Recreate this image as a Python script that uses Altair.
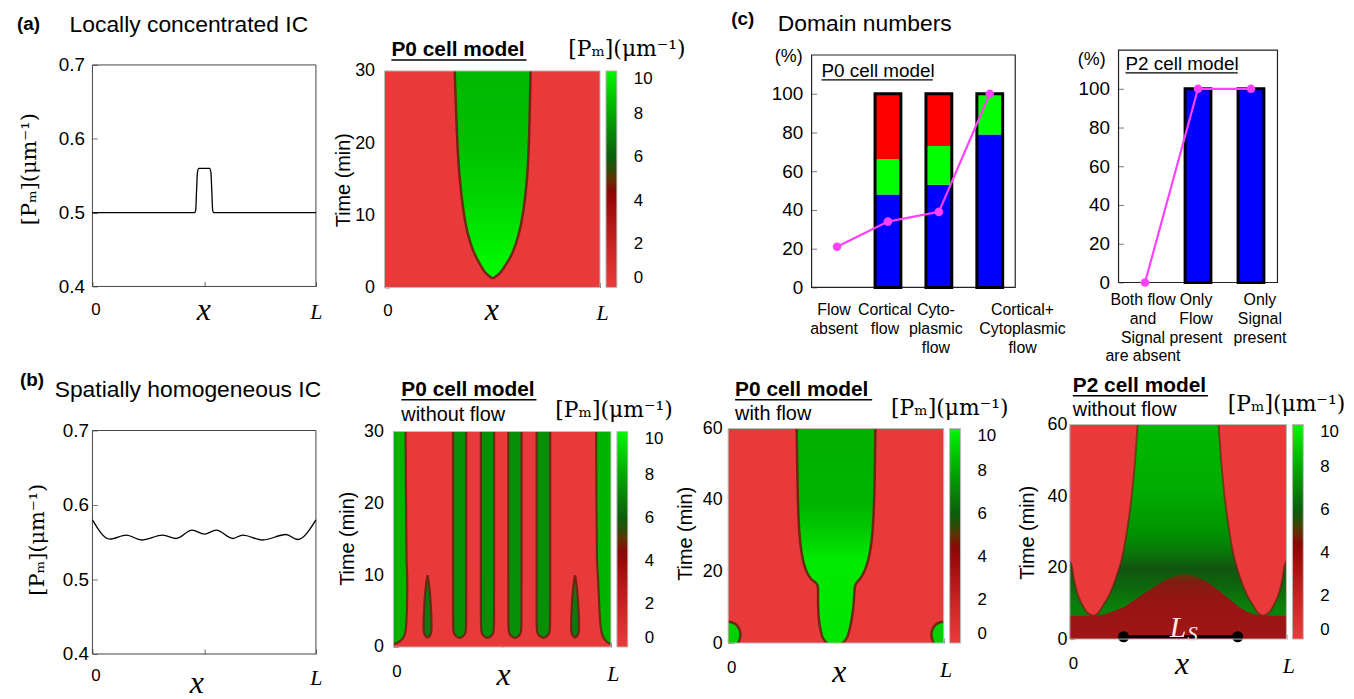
import altair as alt
import pandas as pd

SANS = "Liberation Sans"
SERIF = "Liberation Serif"
MATHF = "DejaVu Serif"
RED = "#e83a3a"
PM = "[Pₘ](μm⁻¹)"
U = alt.Undefined

# ---------------- data ----------------
# (a) locally concentrated initial condition
LA_X = [0.0, 0.457, 0.462, 0.466, 0.470, 0.476, 0.524, 0.530, 0.534, 0.538, 0.543, 1.0]
LA_Y = [0.500, 0.500, 0.503, 0.530, 0.555, 0.560, 0.560, 0.555, 0.530, 0.503, 0.500, 0.500]
# (b) spatially homogeneous initial condition
LB_X = [0.0, 0.077, 0.152, 0.219, 0.315, 0.375, 0.446, 0.501, 0.554, 0.628, 0.672, 0.762, 0.866, 0.918, 1.0]
LB_Y = [0.580, 0.5543, 0.5596, 0.5530, 0.5596, 0.5550, 0.5663, 0.5610, 0.5663, 0.5550, 0.5596, 0.5530, 0.5604, 0.5537, 0.580]

# heat maps: green domains, time t and left / right edges (fraction of L)
A_T = [1.24, 1.93, 2.6, 3.8, 4.9, 7.2, 10.0, 15.0, 20.0, 30.0]
A_LO = [0.502, 0.470, 0.455, 0.432, 0.413, 0.387, 0.368, 0.348, 0.337, 0.326]
A_HI = [0.502, 0.536, 0.551, 0.577, 0.597, 0.623, 0.643, 0.663, 0.671, 0.678]

B1_E_T = [0.3, 0.8, 1.5, 3.0, 6.6, 10.3, 11.2, 20.4, 30.0]
B1_L_LO = [-0.03, -0.03, -0.03, -0.03, -0.03, -0.03, -0.03, -0.03, -0.03]
B1_L_HI = [0.000, 0.033, 0.053, 0.060, 0.064, 0.064, 0.060, 0.058, 0.056]
B1_R_LO = [1.000, 0.975, 0.960, 0.950, 0.945, 0.940, 0.935, 0.933, 0.932]
B1_R_HI = [1.03, 1.03, 1.03, 1.03, 1.03, 1.03, 1.03, 1.03, 1.03]
B1_S_T = [1.25, 1.5, 2.0, 2.8, 10.0, 30.0]
B1_S2_LO = [0.3045, 0.285, 0.276, 0.274, 0.274, 0.274]
B1_S2_HI = [0.3045, 0.324, 0.333, 0.335, 0.335, 0.335]
B1_S3_LO = [0.4325, 0.413, 0.404, 0.402, 0.402, 0.402]
B1_S3_HI = [0.4325, 0.452, 0.461, 0.463, 0.463, 0.463]
B1_S4_LO = [0.5585, 0.539, 0.530, 0.528, 0.528, 0.528]
B1_S4_HI = [0.5585, 0.578, 0.587, 0.589, 0.589, 0.589]
B1_S5_LO = [0.6895, 0.670, 0.660, 0.658, 0.658, 0.658]
B1_S5_HI = [0.6895, 0.709, 0.719, 0.721, 0.721, 0.721]
B1_P_T = [1.3, 1.6, 2.2, 4.0, 6.6, 8.9, 10.0]
B1_P1_LO = [0.157, 0.143, 0.138, 0.139, 0.143, 0.150, 0.157]
B1_P1_HI = [0.157, 0.171, 0.176, 0.175, 0.171, 0.164, 0.157]
B1_P2_LO = [0.835, 0.821, 0.816, 0.817, 0.821, 0.828, 0.835]
B1_P2_HI = [0.835, 0.849, 0.854, 0.853, 0.849, 0.842, 0.835]

B2_C_T = [-0.5, 0.4, 1.5, 3.0, 6.0, 10.0, 14.0, 16.3, 17.2, 17.8, 19.6, 21.4, 25.0, 30.7, 40.0, 50.0, 60.0]
B2_C_LO = [0.462, 0.452, 0.437, 0.431, 0.421, 0.417, 0.417, 0.418, 0.400, 0.385, 0.366, 0.354, 0.340, 0.329, 0.323, 0.320, 0.318]
B2_C_HI = [0.528, 0.538, 0.553, 0.560, 0.572, 0.582, 0.585, 0.588, 0.600, 0.611, 0.629, 0.642, 0.658, 0.671, 0.678, 0.681, 0.683]
B2_K_T = [-0.5, 0.0, 1.0, 2.0, 3.0, 4.0, 5.0, 5.8, 6.3]
B2_KL_LO = [-0.03, -0.03, -0.03, -0.03, -0.03, -0.03, -0.03, -0.03, -0.03]
B2_KL_HI = [0.045, 0.047, 0.054, 0.057, 0.057, 0.052, 0.042, 0.025, -0.03]
B2_KR_LO = [0.955, 0.953, 0.946, 0.943, 0.943, 0.948, 0.958, 0.975, 1.03]
B2_KR_HI = [1.03, 1.03, 1.03, 1.03, 1.03, 1.03, 1.03, 1.03, 1.03]

B3_R_T = [6.5, 6.9, 7.6, 10.0, 12.0, 15.0, 18.0, 20.0, 22.0, 23.5, 25.0, 30.0, 40.0, 50.0, 60.0]
B3_RL_LO = [0.108, 0.088, 0.075, 0.053, 0.038, 0.024, 0.015, 0.011, 0.004, -0.03, -0.03, -0.03, -0.03, -0.03, -0.03]
B3_RL_HI = [0.108, 0.126, 0.136, 0.160, 0.180, 0.202, 0.218, 0.229, 0.238, 0.244, 0.249, 0.264, 0.287, 0.302, 0.313]
B3_RR_LO = [0.892, 0.874, 0.864, 0.840, 0.820, 0.798, 0.782, 0.771, 0.762, 0.756, 0.751, 0.736, 0.713, 0.698, 0.687]
B3_RR_HI = [0.892, 0.912, 0.925, 0.947, 0.962, 0.976, 0.985, 0.989, 0.996, 1.03, 1.03, 1.03, 1.03, 1.03, 1.03]
DOME_X = [-0.02, 0.10, 0.15, 0.20, 0.25, 0.30, 0.35, 0.40, 0.45, 0.50, 0.53, 0.56, 0.60, 0.65, 0.70, 0.75, 0.80, 0.85, 0.90, 1.02]
DOME_T = [6.5, 6.5, 6.8, 7.8, 9.0, 11.0, 13.0, 15.0, 16.8, 17.9, 18.2, 17.9, 17.0, 15.3, 13.0, 10.5, 8.3, 7.0, 6.5, 6.5]
LS_X = [0.248, 0.775]
LS_T = [0.65, 0.65]
LS_LABEL_X = [0.500, 0.566]
LS_LABEL_T = [3.05, 1.1]

# colour bar
CB_VALUES = [0, 2, 4, 6, 8, 10]
CB_STOPS = [0, 2, 4, 4.8, 5.4, 6, 8, 10]
CB_COLORS = ["#ea3b3b", "#c92222", "#990808", "#7a0a05", "#2d4a08", "#0a5e0a", "#00a800", "#00f800"]

# (c) domain numbers
P0_CATS = ["Flow|absent", "Cortical|flow", "Cyto-|plasmic|flow", "Cortical+|Cytoplasmic|flow"]
P0_BLUE = [0, 48, 53, 79]
P0_GREEN = [0, 18, 20, 21]
P0_RED = [0, 34, 27, 0]
P0_LINE = [21, 34, 39, 100]
P2_CATS = ["Both flow|and|Signal|are absent", "Only|Flow|present", "Only|Signal|present"]
P2_BLUE = [0, 100, 100]
P2_GREEN = [0, 0, 0]
P2_RED = [0, 0, 0]
P2_LINE = [0, 100, 100]

ONE = pd.DataFrame({"o": [0]})


# ---------------- helpers ----------------
def sx(field, axis=U):
    return alt.X(field, type="quantitative",
                 scale=alt.Scale(domain=[0, 1], nice=False, zero=False), axis=axis)


def sy(field, dom, H, off, axis=U):
    return alt.Y(field, type="quantitative",
                 scale=alt.Scale(domain=dom, range=[H, off], nice=False, zero=False), axis=axis)


def x_axis(lp, l_off=2, z_off=3):
    return alt.Axis(values=[0, 0.5, 1],
                    labelExpr="datum.value == 0 ? '0' : (datum.value == 1 ? 'L' : '')",
                    labelFont={"condition": {"test": "datum.value == 1", "value": SERIF}, "value": SANS},
                    labelFontStyle={"condition": {"test": "datum.value == 1", "value": "italic"}, "value": "normal"},
                    labelFontSize={"condition": {"test": "datum.value == 1", "value": 22}, "value": 17},
                    labelOffset={"condition": {"test": "datum.value == 1", "value": l_off}, "value": z_off},
                    labelFlush=False, labelPadding=lp, tickSize=5, offset=-5, tickColor="#666",
                    domain=False, grid=False, title=None, labelColor="black")


def y_axis(vals, lp, size=19, expr=None):
    kw = dict(values=vals, labelPadding=lp, tickSize=5, offset=-5, tickColor="#777",
              domain=False, grid=False, title=None, labelFontSize=size, labelFont=SANS,
              labelColor="black")
    if expr:
        kw["labelExpr"] = expr
    return alt.Axis(**kw)


def text(s, x, y, size, weight="normal", font=SANS, style="normal", align="left",
         angle=0, color="black", opacity=1.0, baseline="alphabetic"):
    return alt.Chart(ONE).mark_text(text=s, fontSize=size, fontWeight=weight, font=font,
                                    fontStyle=style, align=align, baseline=baseline,
                                    angle=angle, color=color, opacity=opacity).encode(
        x=alt.value(x), y=alt.value(y))


def uline(x0, x1, y, w=1.6):
    return alt.Chart(ONE).mark_rule(color="black", strokeWidth=w).encode(
        x=alt.value(x0), x2=alt.value(x1), y=alt.value(y))


def vgrad(stops):
    return alt.LinearGradient(gradient="linear",
                              stops=[alt.GradientStop(offset=o, color=c) for o, c in stops],
                              x1=0, x2=0, y1=0, y2=1)


def domain_df(domains):
    rows = []
    for name, T, LO, HI in domains:
        for t, lo, hi in zip(T, LO, HI):
            rows.append({"id": name, "t": t, "lo": lo, "hi": hi})
    return pd.DataFrame(rows)


def edge_df(domains):
    rows = []
    for name, T, LO, HI in domains:
        pts = [(lo, t) for t, lo in zip(T, LO)][::-1] + [(hi, t) for t, hi in zip(T, HI)]
        for k, (x, t) in enumerate(pts):
            rows.append({"id": name, "k": k, "x": x, "t": t})
    return pd.DataFrame(rows)


def area_layer(domains, fill, H, off, tmax):
    return alt.Chart(domain_df(domains)).mark_area(
        orient="horizontal", interpolate="basis", fill=fill, clip=True, strokeWidth=0).encode(
        y=sy("t", [0, tmax], H, off), x=sx("lo"), x2="hi", detail="id:N")


def edge_layer(domains, color, width, opacity, H, off, tmax):
    return alt.Chart(edge_df(domains)).mark_line(
        interpolate="basis", clip=True, color=color, strokeWidth=width, opacity=opacity).encode(
        x=sx("x"), y=sy("t", [0, tmax], H, off), detail="id:N", order="k:Q")


def line_panel(xs, ys, W, plot_h, off, lp_y, lp_x, texts):
    H = off + plot_h
    dom = [0.4, 0.7]
    df = pd.DataFrame({"x": xs, "v": ys})
    fr = pd.DataFrame({"x0": [0], "x1": [1], "y0": [0.4], "y1": [0.7]})
    yax = y_axis([0.4, 0.45, 0.5, 0.55, 0.6, 0.65, 0.7], lp_y,
                 expr="round(datum.value*100) % 10 == 0 ? format(datum.value, '.1f') : ''")
    frame = alt.Chart(fr).mark_rect(fillOpacity=0, stroke="#444", strokeWidth=1).encode(
        x=sx("x0", x_axis(lp_x, 0, 3)), x2="x1", y=sy("y0", dom, H, off, yax), y2="y1")
    line = alt.Chart(df).mark_line(color="black", strokeWidth=1.3, interpolate="monotone").encode(
        x=sx("x"), y=sy("v", dom, H, off))
    return alt.layer(frame, line, *texts).properties(width=W, height=H)


def heat_panel(W, plot_h, off, tmax, tvals, lp_y, lp_x, layers, texts, bg_fill=RED):
    H = off + plot_h
    fr = pd.DataFrame({"x0": [0], "x1": [1], "y0": [0], "y1": [tmax]})
    bg = alt.Chart(fr).mark_rect(fill=bg_fill, strokeWidth=0).encode(
        x=sx("x0", x_axis(lp_x, 2, 3)), x2="x1",
        y=sy("y0", [0, tmax], H, off, y_axis(tvals, lp_y, size=18)), y2="y1")
    frame = alt.Chart(fr).mark_rect(fillOpacity=0, stroke="#bdbdbd", strokeWidth=1).encode(
        x=sx("x0"), x2="x1", y=sy("y0", [0, tmax], H, off), y2="y1")
    cb = alt.Chart(pd.DataFrame({"cb": [0, 10]})).mark_point(
        size=0, opacity=1, filled=True, strokeWidth=0).encode(
        color=alt.Color("cb:Q",
                        scale=alt.Scale(type="linear", domain=CB_STOPS, range=CB_COLORS),
                        legend=alt.Legend(orient="none", legendX=W + 6, legendY=off,
                                          direction="vertical", gradientLength=plot_h,
                                          gradientThickness=11, values=CB_VALUES, title=None,
                                          labelFont=SANS, labelFontSize=17, labelOffset=17,
                                          labelBaseline="middle", labelColor="black",
                                          gradientStrokeColor="#bbbbbb", gradientStrokeWidth=1)))
    return alt.layer(bg, *layers, frame, cb, *texts).properties(width=W, height=H)


def bar_panel(cats, blue, green, red, line_vals, W, plot_h, off, lp_x, loff, texts):
    H = off + plot_h
    dom = [0, 120]
    xs = alt.Scale(domain=cats, paddingInner=0, paddingOuter=0)
    xax = alt.Axis(labelExpr="split(datum.label, '|')", labelAngle=0, ticks=False, domain=False,
                   labelFontSize=16, labelLineHeight=19, labelPadding=lp_x, title=None,
                   labelFont=SANS, labelColor="black", labelOverlap=False, labelLimit=300,
                   labelOffset=loff)
    rows = []
    for i, c in enumerate(cats):
        for k, (seg, vals) in enumerate([("blue", blue), ("green", green), ("red", red)]):
            rows.append({"cat": c, "seg": seg, "val": vals[i], "k": k})
    seg_df = pd.DataFrame(rows)
    tot_df = pd.DataFrame({"cat": cats, "tot": [b + g + r for b, g, r in zip(blue, green, red)]})
    tot_df = tot_df[tot_df["tot"] > 0]
    line_df = pd.DataFrame({"cat": cats, "v": line_vals})
    fr = pd.DataFrame({"y0": [0], "y1": [120]})

    def xe(axis=U):
        return alt.X("cat:N", scale=xs, sort=cats, axis=axis)

    frame = alt.Chart(fr).mark_rect(fillOpacity=0, stroke="#222", strokeWidth=1.2).encode(
        x=alt.value(0), x2=alt.value(W),
        y=sy("y0", dom, H, off, y_axis([0, 20, 40, 60, 80, 100], 9)), y2="y1")
    segs = alt.Chart(seg_df).mark_bar(size=26, strokeWidth=0).encode(
        x=xe(xax),
        y=alt.Y("val:Q", stack="zero",
                scale=alt.Scale(domain=dom, range=[H, off], nice=False, zero=False)),
        color=alt.Color("seg:N", scale=alt.Scale(domain=["blue", "green", "red"],
                                                 range=["#0000ff", "#00ff00", "#ff0000"]),
                        legend=None),
        order=alt.Order("k:Q"))
    outline = alt.Chart(tot_df).mark_bar(size=26, fillOpacity=0, stroke="black", strokeWidth=3).encode(
        x=xe(), y=sy("tot", dom, H, off))
    mline = alt.Chart(line_df).mark_line(color="#ff40ff", strokeWidth=2.2).encode(
        x=xe(), y=sy("v", dom, H, off))
    mpts = alt.Chart(line_df).mark_point(filled=True, size=75, color="#ff40ff", opacity=1).encode(
        x=xe(), y=sy("v", dom, H, off))
    return alt.layer(frame, segs, outline, mline, mpts, *texts).properties(width=W, height=H)


def spacer(w):
    return alt.Chart(ONE).mark_point(opacity=0).encode(
        x=alt.X("o:Q", axis=None), y=alt.Y("o:Q", axis=None)).properties(width=w, height=10)


def xtitle(x, y):
    return text("x", x, y, 32, font=SERIF, style="italic", align="center")


def ytitle(s, x, y, size=20, font=SANS):
    return text(s, x, y, size, font=font, align="center", angle=270, baseline="middle")


EDGE = "#6a1a10"

# ---------------- row 1 ----------------
lineA = line_panel(LA_X, LA_Y, 225, 223, 15, 8, 15, [
    text("(b)", -85, -20, 19, weight="bold", opacity=0),
    text("(a)", -76, -20, 19, weight="bold"),
    text("Locally concentrated IC", -23, -18, 23),
    ytitle(PM, -63, 120, 21, MATHF),
    xtitle(112, 272),
])

A_DOM = [("a", A_T, A_LO, A_HI)]
H_A, OFF_A = 239, 21
heatA = heat_panel(217, 218, OFF_A, 30, [0, 10, 20, 30], 10, 15, [
    area_layer(A_DOM, vgrad([(0, "#00b800"), (0.35, "#00c000"), (0.6, "#00d400"),
                             (0.85, "#00ee00"), (1, "#00ff00")]), H_A, OFF_A, 30),
    edge_layer(A_DOM, EDGE, 2.5, 0.85, H_A, OFF_A, 30),
], [
    text("P0 cell model", 7, 6, 21, weight="bold"), uline(7, 143, 10),
    text(PM, 185, 6, 22, font=MATHF),
    ytitle("Time (min)", -41, 131),
    xtitle(108, 272),
])

barP0 = bar_panel(P0_CATS, P0_BLUE, P0_GREEN, P0_RED, P0_LINE, 205, 234, 5, 14,
                  {"condition": {"test": "datum.value == 'Cortical+|Cytoplasmic|flow'", "value": 33},
                   "value": -3}, [
    text("(c)", -81, -25, 19, weight="bold"),
    text("Domain numbers", -34, -19, 23),
    text("(%)", -9, 12, 18, align="right"),
    text("P0 cell model", 10, 27, 19), uline(10, 122, 30, 1.3),
])

barP2 = bar_panel(P2_CATS, P2_BLUE, P2_GREEN, P2_RED, P2_LINE, 160, 234, 0, 9,
                  {"condition": {"test": "datum.value == 'Only|Signal|present'", "value": 9},
                   "value": -2}, [
    text("(%)", -13, 15, 18, align="right"),
    text("P2 cell model", 7, 20, 19), uline(7, 120, 23, 1.3),
])

row1 = alt.hconcat(lineA, spacer(69), heatA, spacer(213), barP0, spacer(104), barP2,
                   spacing=0, bounds="flush").resolve_scale(color="independent")

# ---------------- row 2 ----------------
lineB = line_panel(LB_X, LB_Y, 225, 225, 6, 4, 14, [
    text("(b)", -73, -39, 19, weight="bold"),
    text("Spatially homogeneous IC", -38, -28, 23),
    ytitle(PM, -55, 116, 21, MATHF),
    xtitle(105, 270),
])

B1_EDGES = [("l", B1_E_T, B1_L_LO, B1_L_HI), ("r", B1_E_T, B1_R_LO, B1_R_HI)]
B1_STRIPES = [("s2", B1_S_T, B1_S2_LO, B1_S2_HI), ("s3", B1_S_T, B1_S3_LO, B1_S3_HI),
              ("s4", B1_S_T, B1_S4_LO, B1_S4_HI), ("s5", B1_S_T, B1_S5_LO, B1_S5_HI)]
B1_SPIKES = [("p1", B1_P_T, B1_P1_LO, B1_P1_HI), ("p2", B1_P_T, B1_P2_LO, B1_P2_HI)]
H1, OFF1 = 224, 7
heatB1 = heat_panel(219, 217, OFF1, 30, [0, 10, 20, 30], 10, 17, [
    area_layer(B1_EDGES, "#00b400", H1, OFF1, 30),
    area_layer(B1_STRIPES, "#078f07", H1, OFF1, 30),
    area_layer(B1_SPIKES, "#107810", H1, OFF1, 30),
    edge_layer(B1_EDGES + B1_STRIPES + B1_SPIKES, EDGE, 2.2, 0.8, H1, OFF1, 30),
], [
    text("P0 cell model", 8, -29, 21, weight="bold"), uline(8, 144, -25),
    text("without flow", 8, -4, 20),
    text(PM, 163, -8, 22, font=MATHF),
    ytitle("Time (min)", -46, 115),
    xtitle(111, 262),
])

B2_CENTER = [("c", B2_C_T, B2_C_LO, B2_C_HI)]
B2_CORNERS = [("kl", B2_K_T, B2_KL_LO, B2_KL_HI), ("kr", B2_K_T, B2_KR_LO, B2_KR_HI)]
H2, OFF2 = 220, 4
heatB2 = heat_panel(217, 216, OFF2, 60, [0, 20, 40, 60], 6, 17, [
    area_layer(B2_CENTER, vgrad([(0, "#00b000"), (0.35, "#00b400"), (0.5, "#00d000"),
                                 (0.6, "#00ea00"), (1, "#00e400")]), H2, OFF2, 60),
    area_layer(B2_CORNERS, "#00d000", H2, OFF2, 60),
    edge_layer(B2_CENTER + B2_CORNERS, EDGE, 2.5, 0.85, H2, OFF2, 60),
], [
    text("P0 cell model", 7, -29, 21, weight="bold"), uline(7, 145, -25),
    text("with flow", 7, -5, 20),
    text(PM, 164, -10, 22, font=MATHF),
    ytitle("Time (min)", -42, 110),
    xtitle(112, 259),
])

B3_SIDES = [("rl", B3_R_T, B3_RL_LO, B3_RL_HI), ("rr", B3_R_T, B3_RR_LO, B3_RR_HI)]
H3, OFF3 = 216, 0
fr3 = pd.DataFrame({"x0": [0], "x1": [1], "y0": [0], "y1": [60]})
green_base = alt.Chart(fr3).mark_rect(
    fill=vgrad([(0, "#00b800"), (0.3, "#00ac00"), (0.5, "#009400"), (0.6, "#0a760a"),
                (0.67, "#115410"), (0.75, "#0d660d"), (0.85, "#0a800a"), (1, "#0a880a")]),
    strokeWidth=0).encode(x=sx("x0"), x2="x1", y=sy("y0", [0, 60], H3, OFF3), y2="y1")
dome = alt.Chart(pd.DataFrame({"x": DOME_X, "t": DOME_T})).mark_area(
    interpolate="monotone", clip=True,
    fill=vgrad([(0, "#563a0c"), (0.12, "#801c10"), (0.4, "#961414"), (1, "#a01616")])).encode(
    x=sx("x"), y=sy("t", [0, 60], H3, OFF3), y2=alt.datum(0))
ls_df = pd.DataFrame({"x0": [LS_X[0]], "x1": [LS_X[1]], "t": [LS_T[0]]})
ls_rule = alt.Chart(ls_df).mark_rule(color="black", strokeWidth=3.5).encode(
    x=sx("x0"), x2="x1", y=sy("t", [0, 60], H3, OFF3))
ls_pts = alt.Chart(pd.DataFrame({"x": LS_X, "t": LS_T})).mark_circle(
    size=125, color="black", opacity=1).encode(x=sx("x"), y=sy("t", [0, 60], H3, OFF3))
ls_l = alt.Chart(pd.DataFrame({"x": [LS_LABEL_X[0]], "t": [LS_LABEL_T[0]]})).mark_text(
    text="L", font=SERIF, fontStyle="italic", fontSize=30, color="#fbeaea", align="center").encode(
    x=sx("x"), y=sy("t", [0, 60], H3, OFF3))
ls_s = alt.Chart(pd.DataFrame({"x": [LS_LABEL_X[1]], "t": [LS_LABEL_T[1]]})).mark_text(
    text="S", font=SERIF, fontStyle="italic", fontSize=21, color="#fbeaea", align="center").encode(
    x=sx("x"), y=sy("t", [0, 60], H3, OFF3))

heatB3 = heat_panel(218, 216, OFF3, 60, [0, 20, 40, 60], 3, 17, [
    green_base,
    area_layer(B3_SIDES, RED, H3, OFF3, 60),
    edge_layer(B3_SIDES, EDGE, 2.0, 0.6, H3, OFF3, 60),
    dome, ls_rule, ls_pts, ls_l, ls_s,
], [
    text("P2 cell model", 3, -33, 21, weight="bold"), uline(3, 139, -29),
    text("without flow", 3, -9, 20),
    text(PM, 159, -14, 22, font=MATHF),
    ytitle("Time (min)", -42, 109),
    xtitle(113, 251),
])

row2 = alt.hconcat(lineB, spacer(78), heatB1, spacer(118), heatB2, spacer(127), heatB3,
                   spacing=0, bounds="flush").resolve_scale(color="independent")

chart = alt.vconcat(row1, row2, spacing=7).resolve_scale(color="independent").properties(
    padding=0, background="white").configure_view(strokeWidth=0).configure_axis(grid=False)

chart.save("out.html", embed_options={"renderer": "svg", "actions": False})
